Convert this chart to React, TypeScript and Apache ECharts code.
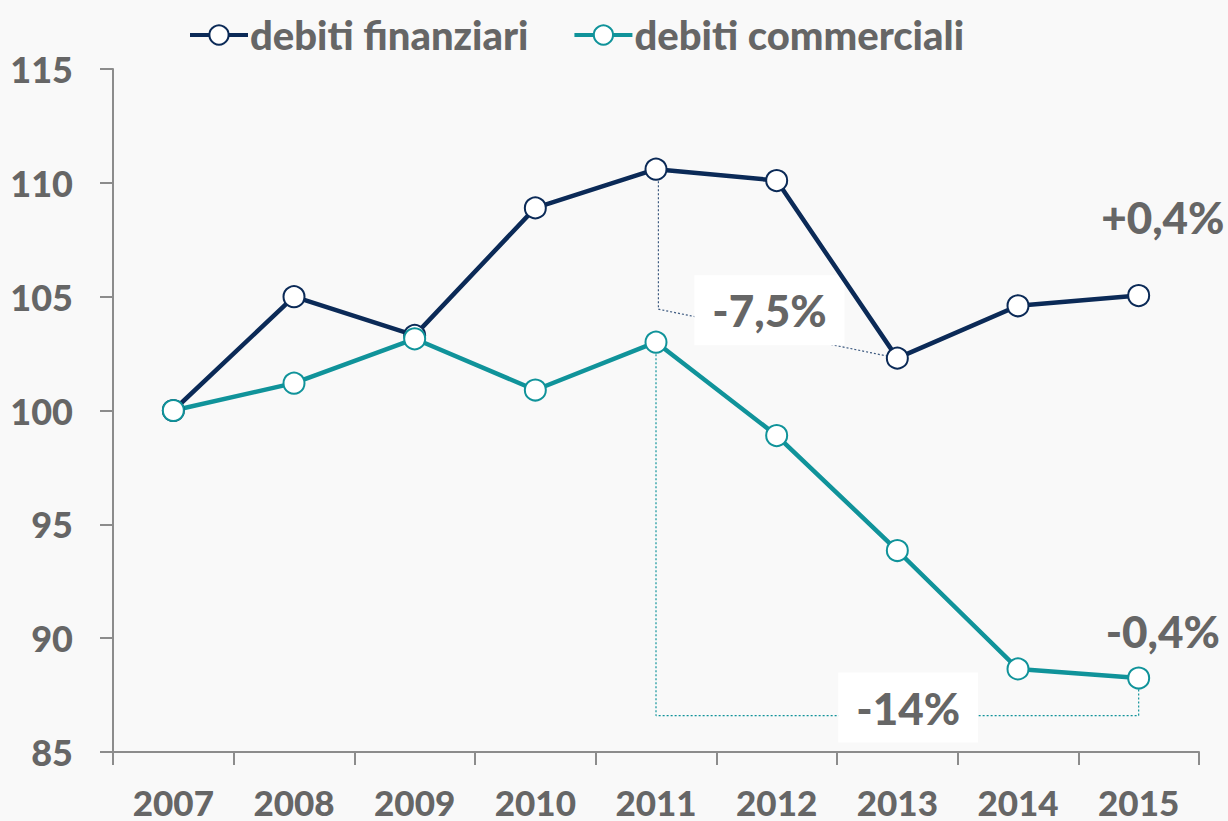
import React, { useEffect, useRef } from "react";
import * as echarts from "echarts";

const years = ["2007", "2008", "2009", "2010", "2011", "2012", "2013", "2014", "2015"];
const finanziari = [100, 105.0, 103.3, 108.9, 110.6, 110.1, 102.3, 104.6, 105.05];
const commerciali = [100, 101.2, 103.15, 100.9, 103.0, 98.9, 93.85, 88.65, 88.25];
const yTicks = { min: 85, max: 115, interval: 5 };

// guide lines (x as category index, y as value)
const finGuide = [[4.02, 110.6], [4.02, 104.45], [6, 102.3]];
const comGuide = [[4.0, 103.0], [4.0, 86.6], [8, 86.6], [8, 88.25]];
const boxLabels = [
  { name: "-7,5%", value: [4.94, 104.4] },
  { name: "-14%", value: [6.09, 86.95] },
];
const changeLabels = [
  { name: "+0,4%", value: [8.2, 108.5] },
  { name: "-0,4%", value: [8.2, 90.3] },
];

const NAVY = "#0b2a57";
const TEAL = "#10939a";
const GREY = "#666666";
const FONT = "Lato";
const W = 900;

export default function App() {
  const ref = useRef<HTMLDivElement>(null);
  useEffect(() => {
    if (!ref.current) return;
    const chart = echarts.init(ref.current, undefined, { renderer: "svg" });
    const mainSeries = (name: string, data: number[], color: string) => ({
      name,
      type: "line",
      data,
      z: 5,
      symbol: "circle",
      symbolSize: 21,
      lineStyle: { color, width: 4.5 },
      itemStyle: { color: "#ffffff", borderColor: color, borderWidth: 2 },
      emphasis: { disabled: true },
    });
    const annotLabel = {
      show: true,
      position: "inside",
      formatter: "{b}",
      color: GREY,
      fontSize: 44,
      fontWeight: W,
      fontFamily: FONT,
      textBorderWidth: 0,
      textBorderColor: "transparent",
    };
    chart.setOption({
      animation: false,
      backgroundColor: "#f9f9f9",
      textStyle: { fontFamily: FONT },
      grid: { left: 113, right: 29, top: 69, bottom: 69 },
      legend: {
        left: 183,
        top: 10,
        data: ["debiti finanziari", "debiti commerciali"],
        itemWidth: 58,
        itemHeight: 24,
        itemGap: 44,
        lineStyle: { width: 4 },
        textStyle: { color: GREY, fontSize: 40, fontWeight: W, fontFamily: FONT, padding: [0, 0, 0, -3] },
      },
      xAxis: [
        {
          type: "category",
          data: years,
          boundaryGap: true,
          axisLine: { lineStyle: { color: "#8c8c8c", width: 2 } },
          axisTick: { show: true, length: 13, lineStyle: { color: "#8c8c8c", width: 2 } },
          axisLabel: { color: GREY, fontSize: 35, lineHeight: 35, fontWeight: W, margin: 32, fontFamily: FONT },
        },
        { type: "value", min: -0.5, max: 8.5, show: false },
      ],
      yAxis: {
        type: "value",
        min: yTicks.min,
        max: yTicks.max,
        interval: yTicks.interval,
        splitLine: { show: false },
        axisLine: { show: true, onZero: false, lineStyle: { color: "#8c8c8c", width: 2 } },
        axisTick: { show: true, length: 13, lineStyle: { color: "#8c8c8c", width: 2 } },
        axisLabel: { color: GREY, fontSize: 36, fontWeight: W, margin: 40, fontFamily: FONT },
      },
      series: [
        {
          name: "g1",
          type: "line",
          xAxisIndex: 1,
          data: finGuide,
          symbol: "none",
          z: 1,
          silent: true,
          lineStyle: { color: "#3d5a80", width: 1.2, type: [2, 2] },
        },
        {
          name: "g2",
          type: "line",
          xAxisIndex: 1,
          data: comGuide,
          symbol: "none",
          z: 1,
          silent: true,
          lineStyle: { color: TEAL, width: 1.2, type: [2, 2] },
        },
        {
          name: "boxes",
          type: "scatter",
          xAxisIndex: 1,
          data: boxLabels,
          symbolSize: 0,
          z: 2,
          silent: true,
          itemStyle: { opacity: 1 },
          label: { ...annotLabel, backgroundColor: "#ffffff", padding: [13, 18] },
        },
        {
          name: "changes",
          type: "scatter",
          xAxisIndex: 1,
          data: changeLabels,
          symbolSize: 0,
          z: 2,
          silent: true,
          itemStyle: { opacity: 1 },
          label: annotLabel,
        },
        mainSeries("debiti finanziari", finanziari, NAVY),
        mainSeries("debiti commerciali", commerciali, TEAL),
      ],
    });
    return () => chart.dispose();
  }, []);
  return (
    <div
      ref={ref}
      style={{ position: "fixed", left: 0, top: 0, width: 1228, height: 821 }}
    />
  );
}
